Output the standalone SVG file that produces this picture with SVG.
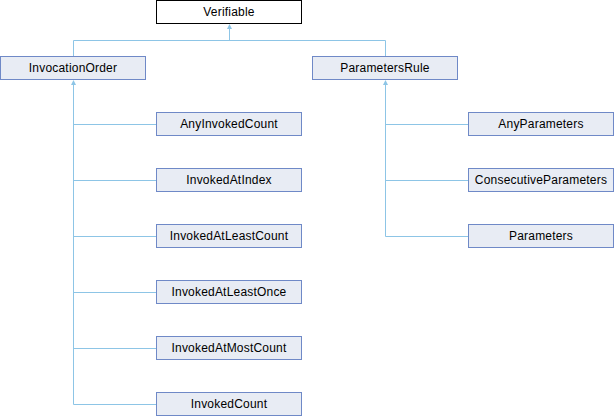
<svg xmlns="http://www.w3.org/2000/svg" width="614" height="416" viewBox="0 0 614 416">
<style>
.n rect{fill:#E8ECF4;stroke:#6F89C7;stroke-width:1}
.b rect{fill:#FFFFFF;stroke:#000000;stroke-width:1}
text{font-family:"Liberation Sans",Arial,sans-serif;font-size:12px;fill:#000;text-anchor:middle;letter-spacing:0.2px}
.e{stroke:#8DC5E6;stroke-width:1;fill:none}
.h{fill:#8DC5E6;stroke:none}
</style>
<rect width="614" height="416" fill="#fff"/>
<g id="connectors">
<path class="e" d="M229.5,29V40.5M73.5,40.5H385.5M73.5,40.5V56M385.5,40.5V56"/>
<polygon class="h" points="229.5,24 232,29 227,29"/>
<path class="e" d="M73.5,85V404.5M73.5,124.5H156.5M73.5,180.5H156.5M73.5,236.5H156.5M73.5,292.5H156.5M73.5,348.5H156.5M73.5,404.5H156.5"/>
<polygon class="h" points="73.5,80 76,85 71,85"/>
<path class="e" d="M385.5,85V236.5M385.5,124.5H468.5M385.5,180.5H468.5M385.5,236.5H468.5"/>
<polygon class="h" points="385.5,80 388,85 383,85"/>
</g>
<g id="Verifiable" class="b"><rect x="156.5" y="0.5" width="145" height="23"/><text x="229" y="16">Verifiable</text></g>
<g id="InvocationOrder" class="n"><rect x="0.5" y="56.5" width="145" height="23"/><text x="73" y="72">InvocationOrder</text></g>
<g id="ParametersRule" class="n"><rect x="312.5" y="56.5" width="145" height="23"/><text x="385" y="72">ParametersRule</text></g>
<g id="AnyInvokedCount" class="n"><rect x="156.5" y="112.5" width="145" height="23"/><text x="229" y="128">AnyInvokedCount</text></g>
<g id="InvokedAtIndex" class="n"><rect x="156.5" y="168.5" width="145" height="23"/><text x="229" y="184">InvokedAtIndex</text></g>
<g id="InvokedAtLeastCount" class="n"><rect x="156.5" y="224.5" width="145" height="23"/><text x="229" y="240">InvokedAtLeastCount</text></g>
<g id="InvokedAtLeastOnce" class="n"><rect x="156.5" y="280.5" width="145" height="23"/><text x="229" y="296">InvokedAtLeastOnce</text></g>
<g id="InvokedAtMostCount" class="n"><rect x="156.5" y="336.5" width="145" height="23"/><text x="229" y="352">InvokedAtMostCount</text></g>
<g id="InvokedCount" class="n"><rect x="156.5" y="392.5" width="145" height="23"/><text x="229" y="408">InvokedCount</text></g>
<g id="AnyParameters" class="n"><rect x="468.5" y="112.5" width="145" height="23"/><text x="541" y="128">AnyParameters</text></g>
<g id="ConsecutiveParameters" class="n"><rect x="468.5" y="168.5" width="145" height="23"/><text x="541" y="184">ConsecutiveParameters</text></g>
<g id="Parameters" class="n"><rect x="468.5" y="224.5" width="145" height="23"/><text x="541" y="240">Parameters</text></g>
</svg>
